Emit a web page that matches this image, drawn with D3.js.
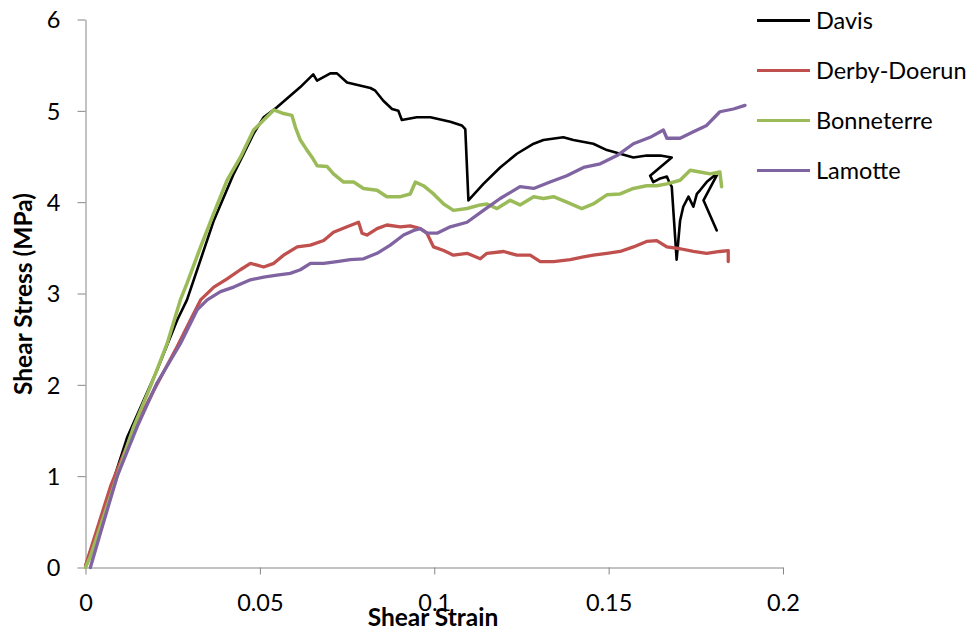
<!DOCTYPE html>
<html>
<head>
<meta charset="utf-8">
<script src="https://cdn.jsdelivr.net/npm/d3@7"></script>
<style>
  html, body { margin: 0; padding: 0; background: #fff; }
  svg { display: block; }
  text { font-family: Lato, "Open Sans", sans-serif; fill: #000; }
</style>
</head>
<body>
<svg id="chart" width="978" height="632"></svg>
<script>
// ---- data (shear strain, shear stress MPa) ----
const seriesNames = ["Davis", "Derby-Doerun", "Bonneterre", "Lamotte"];
const seriesColors = ["#000000", "#C0504D", "#9BBB59", "#8064A2"];

const davis = [[0,0.02],[0.004,0.48],[0.0119,1.42],[0.0205,2.16],[0.0263,2.71],[0.0291,2.93],[0.0368,3.80],[0.0425,4.31],[0.0482,4.75],[0.0511,4.93],[0.0549,5.04],[0.0616,5.26],[0.0653,5.40],[0.0664,5.33],[0.0702,5.41],[0.0721,5.41],[0.0750,5.31],[0.0817,5.25],[0.0831,5.22],[0.0854,5.11],[0.0879,5.02],[0.0897,5.00],[0.0907,4.90],[0.0950,4.93],[0.0989,4.93],[0.1046,4.88],[0.1079,4.84],[0.1089,4.80],[0.1098,4.02],[0.1141,4.20],[0.1189,4.38],[0.1237,4.53],[0.1285,4.64],[0.1313,4.68],[0.1370,4.71],[0.1399,4.68],[0.1456,4.64],[0.1495,4.57],[0.1533,4.53],[0.1571,4.49],[0.1609,4.51],[0.1648,4.51],[0.1681,4.49],[0.1619,4.29],[0.1628,4.22],[0.1648,4.26],[0.1667,4.28],[0.1676,4.20],[0.1681,4.17],[0.1695,3.37],[0.1705,3.80],[0.1714,3.95],[0.1729,4.06],[0.1743,3.95],[0.1753,4.09],[0.1762,4.13],[0.1781,4.22],[0.1800,4.28],[0.1815,4.33],[0.1772,4.02],[0.1810,3.69]];

const derbyDoerun = [[0,0.02],[0.0072,0.89],[0.0138,1.51],[0.0196,1.94],[0.0263,2.42],[0.0301,2.71],[0.0330,2.93],[0.0368,3.07],[0.0406,3.16],[0.0444,3.26],[0.0473,3.33],[0.0492,3.31],[0.0511,3.29],[0.0540,3.33],[0.0568,3.42],[0.0607,3.51],[0.0645,3.53],[0.0683,3.58],[0.0711,3.67],[0.0750,3.73],[0.0783,3.78],[0.0793,3.66],[0.0807,3.64],[0.0836,3.71],[0.0864,3.75],[0.0903,3.73],[0.0931,3.74],[0.0960,3.71],[0.0979,3.66],[0.0998,3.51],[0.1027,3.47],[0.1055,3.42],[0.1094,3.44],[0.1132,3.38],[0.1151,3.44],[0.1199,3.46],[0.1237,3.42],[0.1275,3.42],[0.1304,3.35],[0.1342,3.35],[0.1390,3.37],[0.1428,3.40],[0.1456,3.42],[0.1495,3.44],[0.1533,3.46],[0.1571,3.51],[0.1609,3.57],[0.1638,3.58],[0.1667,3.51],[0.1705,3.49],[0.1743,3.46],[0.1781,3.44],[0.1819,3.46],[0.1843,3.47],[0.1843,3.35]];

const bonneterre = [[0,0],[0.0014,0.12],[0.0081,0.89],[0.0138,1.54],[0.0186,1.98],[0.0234,2.45],[0.0272,2.93],[0.0291,3.11],[0.0330,3.51],[0.0368,3.88],[0.0406,4.24],[0.0444,4.49],[0.0482,4.79],[0.0511,4.90],[0.0540,5.01],[0.0568,4.97],[0.0592,4.95],[0.0602,4.82],[0.0616,4.68],[0.0635,4.57],[0.0650,4.49],[0.0664,4.40],[0.0693,4.39],[0.0711,4.31],[0.0740,4.22],[0.0769,4.22],[0.0797,4.15],[0.0836,4.13],[0.0864,4.06],[0.0903,4.06],[0.0931,4.09],[0.0946,4.22],[0.0969,4.18],[0.0998,4.09],[0.1027,3.98],[0.1055,3.91],[0.1094,3.93],[0.1132,3.97],[0.1151,3.98],[0.1180,3.93],[0.1218,4.02],[0.1246,3.97],[0.1285,4.06],[0.1313,4.04],[0.1342,4.06],[0.1380,4.00],[0.1423,3.93],[0.1456,3.98],[0.1495,4.08],[0.1533,4.09],[0.1571,4.15],[0.1609,4.18],[0.1638,4.18],[0.1667,4.20],[0.1705,4.24],[0.1734,4.35],[0.1762,4.33],[0.1791,4.31],[0.1819,4.33],[0.1824,4.17]];

const lamotte = [[0.0014,0],[0.0043,0.38],[0.0091,1.00],[0.0148,1.54],[0.0205,2.02],[0.0272,2.45],[0.0320,2.82],[0.0349,2.93],[0.0387,3.02],[0.0425,3.07],[0.0473,3.15],[0.0511,3.18],[0.0549,3.20],[0.0587,3.22],[0.0616,3.26],[0.0645,3.33],[0.0683,3.33],[0.0721,3.35],[0.0759,3.37],[0.0797,3.38],[0.0836,3.44],[0.0874,3.53],[0.0912,3.64],[0.0941,3.69],[0.0960,3.71],[0.0979,3.66],[0.1008,3.66],[0.1046,3.73],[0.1094,3.78],[0.1141,3.91],[0.1189,4.04],[0.1246,4.17],[0.1285,4.15],[0.1332,4.22],[0.1380,4.29],[0.1428,4.38],[0.1476,4.42],[0.1524,4.51],[0.1571,4.64],[0.1619,4.71],[0.1657,4.79],[0.1667,4.70],[0.1705,4.70],[0.1743,4.77],[0.1781,4.84],[0.1819,4.99],[0.1858,5.02],[0.1891,5.06]];

const xTickValues = [0, 0.05, 0.1, 0.15, 0.2];
const xTickLabels = ["0", "0.05", "0.1", "0.15", "0.2"];
const yTickValues = [0, 1, 2, 3, 4, 5, 6];
const yTickLabels = ["0", "1", "2", "3", "4", "5", "6"];
const xTitle = "Shear Strain";
const yTitle = "Shear Stress (MPa)";

// ---- drawing ----
const svg = d3.select("#chart");
const x = d3.scaleLinear().domain([0, 0.2]).range([85.5, 783]);
const y = d3.scaleLinear().domain([0, 6]).range([567.5, 19.5]);
const axisColor = "#868686";
const fontSize = 23.5;
const titleSize = 24.5;

// x axis
const gx = svg.append("g").attr("transform", `translate(0,${y(0)})`)
  .call(d3.axisBottom(x).tickValues(xTickValues).tickSize(7).tickSizeOuter(0)
    .tickFormat((d, i) => xTickLabels[i]));
gx.select(".domain").attr("stroke", axisColor).attr("stroke-width", 1);
gx.selectAll(".tick line").attr("stroke", axisColor);
gx.selectAll(".tick text").attr("y", 35).attr("dy", "0.36em")
  .style("font-size", fontSize + "px").style("font-family", "Lato").attr("fill", "#000");

// y axis
const gy = svg.append("g").attr("transform", `translate(${x(0)},0)`)
  .call(d3.axisLeft(y).tickValues(yTickValues).tickSize(8).tickSizeOuter(0)
    .tickFormat((d, i) => yTickLabels[i]));
gy.select(".domain").attr("stroke", axisColor).attr("stroke-width", 1);
gy.selectAll(".tick line").attr("stroke", axisColor);
gy.selectAll(".tick text").attr("x", -25).attr("dy", "0.36em")
  .style("font-size", fontSize + "px").style("font-family", "Lato").attr("fill", "#000");

// series
const allSeries = [davis, derbyDoerun, bonneterre, lamotte];
const widths = [2.6, 3.3, 3.5, 3.3];
const line = d3.line().x(d => x(d[0])).y(d => y(d[1]));
const gLines = svg.append("g");
allSeries.forEach((s, i) => {
  gLines.append("path").datum(s)
    .attr("d", line)
    .attr("fill", "none")
    .attr("stroke", seriesColors[i])
    .attr("stroke-width", widths[i])
    .attr("stroke-linejoin", "round")
    .attr("stroke-linecap", "round");
});

// axis titles
svg.append("text").attr("x", 433).attr("y", 626)
  .attr("text-anchor", "middle")
  .style("font-weight", "bold").style("font-size", titleSize + "px")
  .text(xTitle);
svg.append("text")
  .attr("transform", "translate(32,294) rotate(-90)")
  .attr("text-anchor", "middle")
  .style("font-weight", "bold").style("font-size", titleSize + "px")
  .text(yTitle);

// legend
const legendY = d3.scalePoint().domain(seriesNames).range([20.5, 170.5]);
const lg = svg.append("g");
seriesNames.forEach((name, i) => {
  const yy = legendY(name);
  lg.append("line").attr("x1", 757).attr("x2", 810).attr("y1", yy).attr("y2", yy)
    .attr("stroke", seriesColors[i]).attr("stroke-width", 3);
  lg.append("text").attr("x", 816).attr("y", yy).attr("dy", "0.36em")
    .style("font-size", fontSize + "px").text(name);
});
</script>
</body>
</html>
